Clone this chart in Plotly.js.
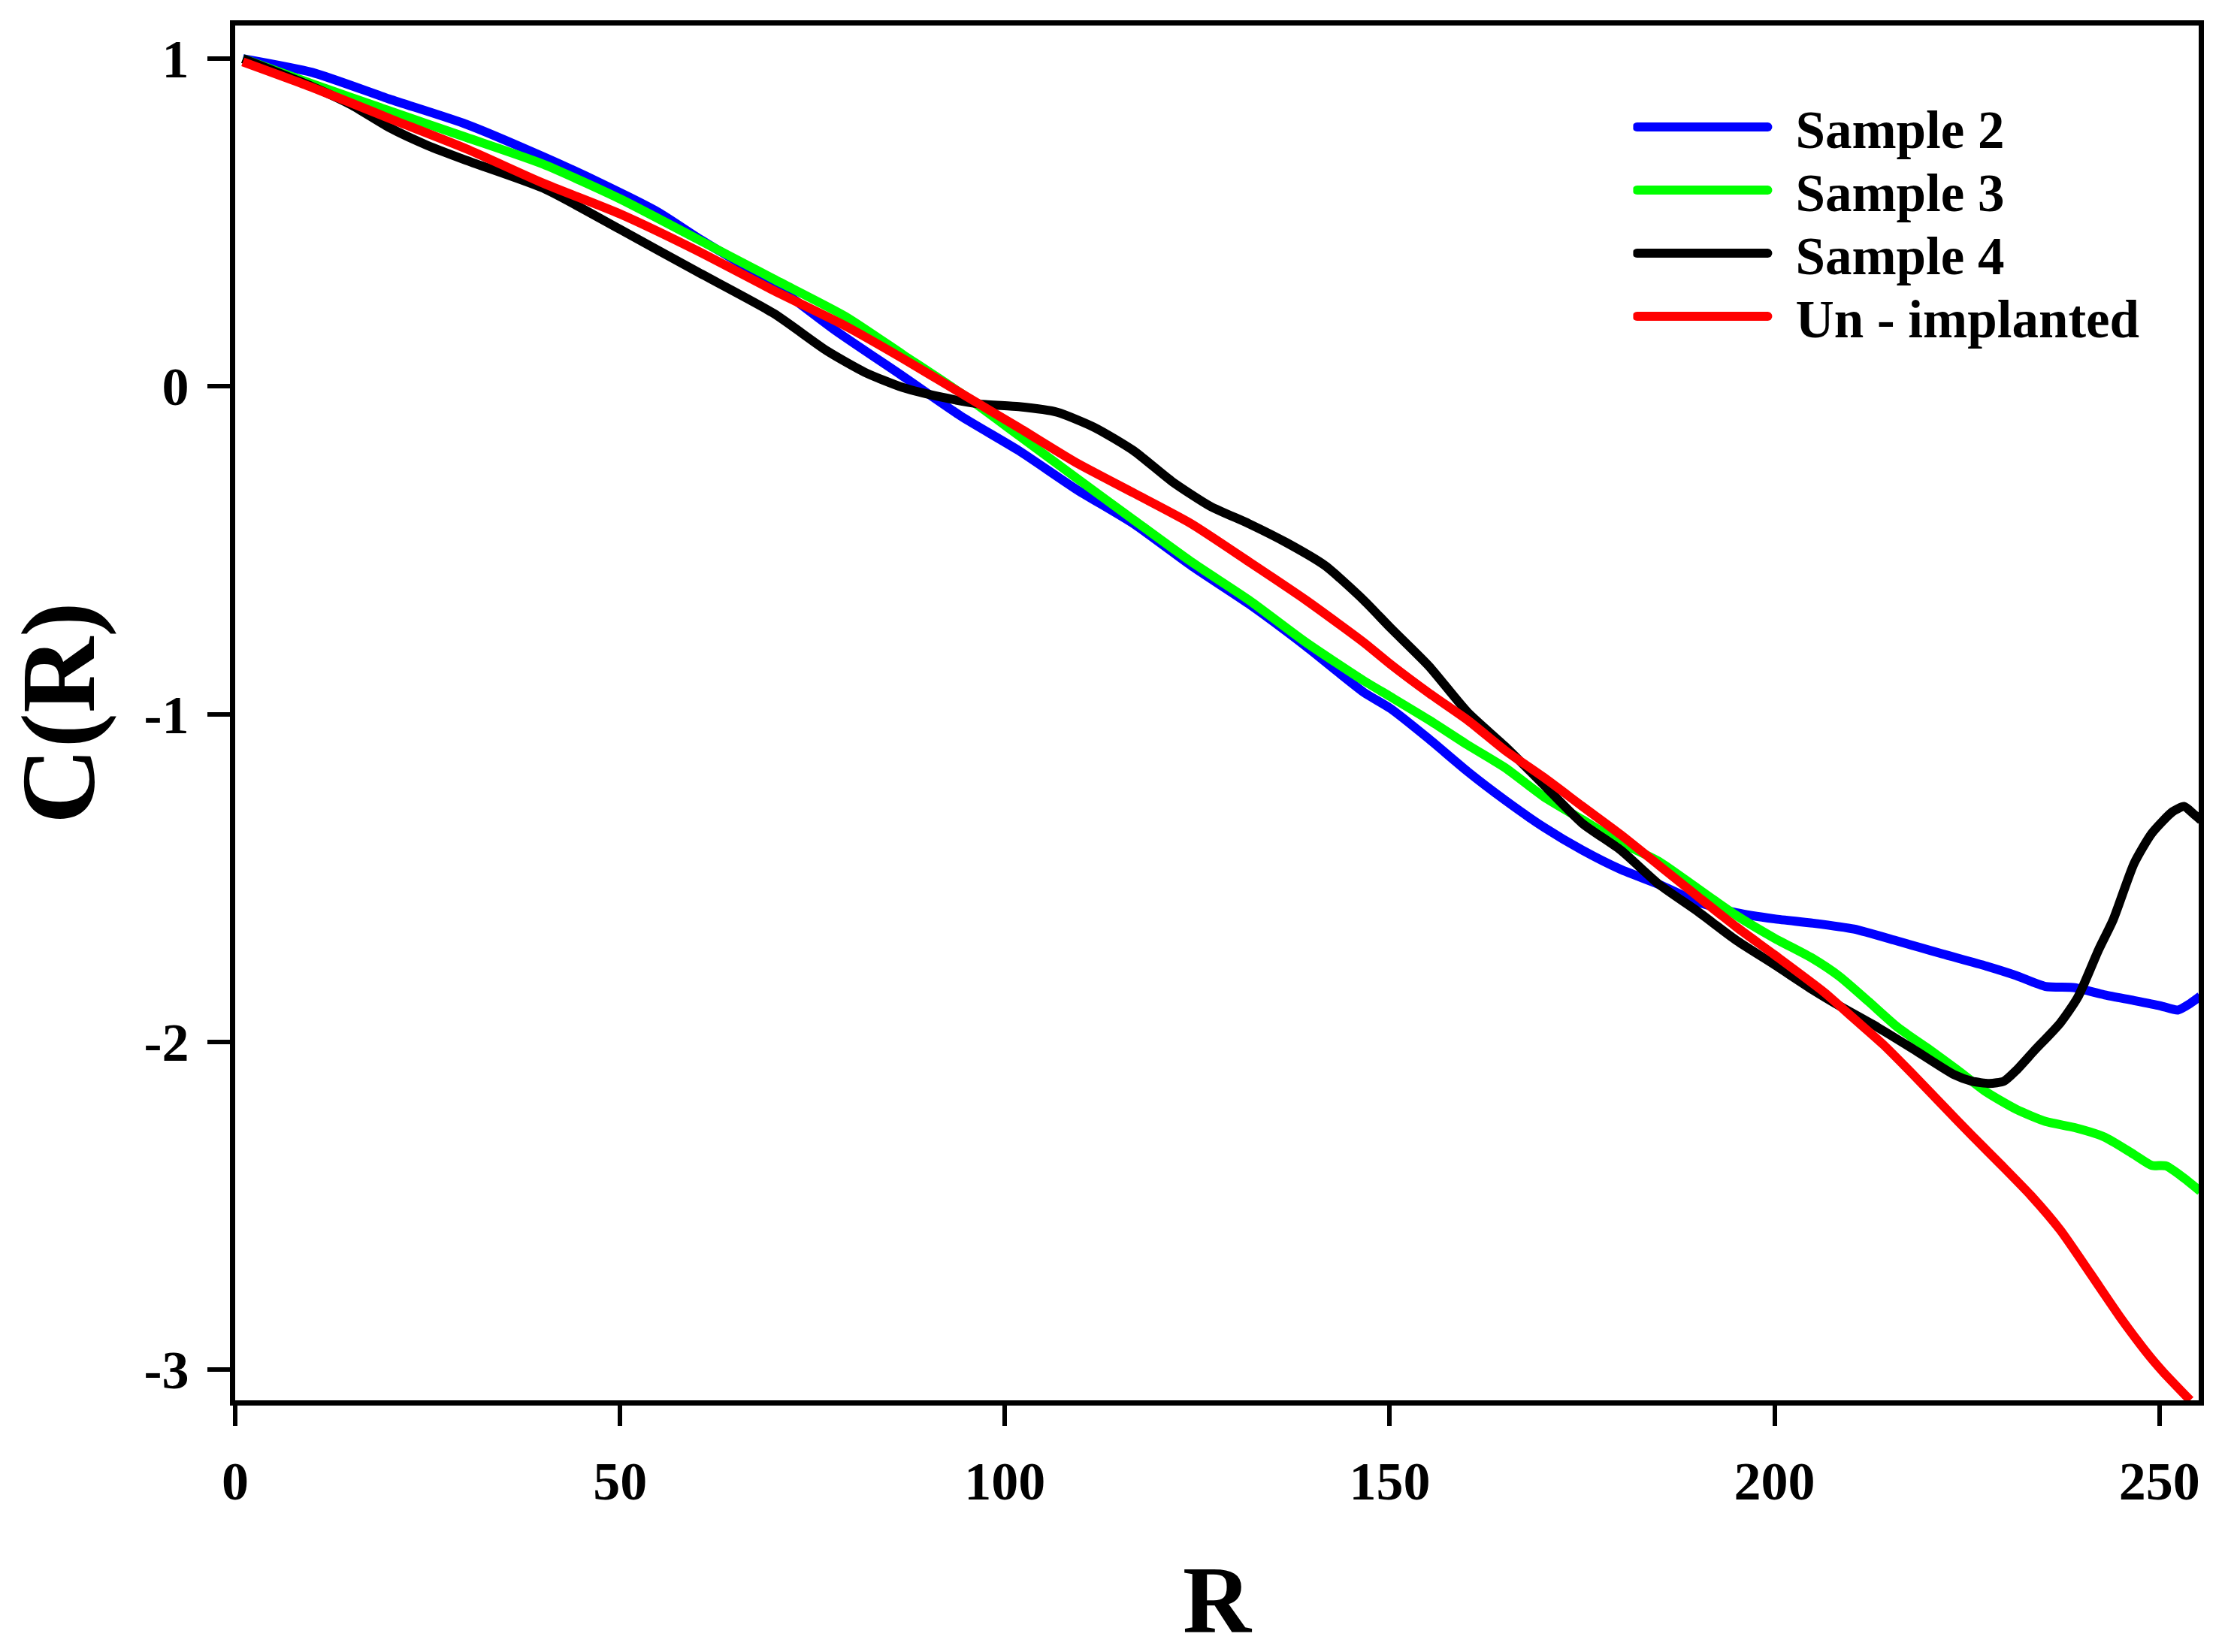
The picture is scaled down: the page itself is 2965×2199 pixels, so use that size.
<!DOCTYPE html>
<html>
<head>
<meta charset="utf-8">
<script src="https://cdn.plot.ly/plotly-3.0.1.min.js"></script>
<style>
  html, body { margin: 0; padding: 0; background: #fff; }
  #chart { width: 2965px; height: 2199px; }
</style>
</head>
<body>
<div id="chart"></div>
<script>
// values (R, C(R))
const rSample2 = [1, 10, 20, 30, 40, 47.5, 55, 60, 70, 78, 86.8, 94.3, 101.8, 109.2, 116.7, 124.2, 131.7, 139.1, 146.6, 150.1, 155.1, 160.1, 165, 170, 175, 180, 185, 190, 195, 200, 205, 210.3, 216, 221.8, 227.5, 231.4, 235.2, 239, 242.9, 246.7, 250.1, 252.4, 254, 255.3];
const cSample2 = [1.0, 0.958, 0.877, 0.80, 0.701, 0.62, 0.531, 0.455, 0.31, 0.17, 0.03, -0.091, -0.196, -0.313, -0.419, -0.547, -0.664, -0.793, -0.933, -0.983, -1.076, -1.175, -1.263, -1.345, -1.415, -1.474, -1.52, -1.573, -1.606, -1.625, -1.638, -1.656, -1.693, -1.732, -1.769, -1.798, -1.831, -1.835, -1.857, -1.874, -1.89, -1.903, -1.883, -1.861];

const rSample3 = [1, 10, 20, 30, 40, 50, 60, 70, 79.3, 86.8, 94.3, 101.8, 109.2, 116.7, 124.2, 131.7, 139.1, 146.6, 150.1, 155.1, 160.1, 165, 170, 175, 180, 185, 190, 195, 200, 204.9, 208.4, 212.2, 216, 219.9, 223.7, 227.5, 231.4, 235.2, 239, 242.9, 246.7, 249, 250.9, 253.2, 255.3];
const cSample3 = [1.0, 0.923, 0.841, 0.76, 0.678, 0.572, 0.45, 0.327, 0.213, 0.096, -0.021, -0.15, -0.278, -0.407, -0.535, -0.652, -0.781, -0.898, -0.947, -1.018, -1.094, -1.164, -1.252, -1.322, -1.392, -1.45, -1.532, -1.614, -1.684, -1.745, -1.8, -1.877, -1.956, -2.02, -2.085, -2.153, -2.206, -2.243, -2.262, -2.291, -2.344, -2.377, -2.379, -2.416, -2.456];

const rSample4 = [1, 10, 15, 20, 25, 30, 40, 50, 60, 70, 76.9, 81.8, 86.8, 91.8, 96.8, 101.8, 106.8, 111.7, 116.7, 121.7, 126.7, 131.7, 136.6, 141.6, 146.6, 150.1, 155.1, 160.1, 165, 170, 175, 180, 185, 190, 195, 200, 205, 208.4, 213.4, 218, 223.3, 225.6, 227.9, 229.8, 231.4, 233.7, 237.1, 239.4, 242.1, 244, 246.7, 249, 251.7, 253.2, 254.4, 255.4];
const cSample4 = [1.0, 0.915, 0.86, 0.79, 0.735, 0.69, 0.605, 0.479, 0.35, 0.222, 0.108, 0.043, -0.004, -0.033, -0.054, -0.062, -0.079, -0.126, -0.196, -0.29, -0.366, -0.419, -0.477, -0.547, -0.652, -0.737, -0.854, -0.994, -1.099, -1.216, -1.333, -1.415, -1.52, -1.602, -1.69, -1.765, -1.842, -1.89, -1.956, -2.022, -2.1, -2.12, -2.127, -2.12, -2.087, -2.028, -1.943, -1.864, -1.719, -1.627, -1.456, -1.364, -1.298, -1.282, -1.304, -1.324];

const rUnimpl = [1, 10, 20, 30, 40, 50, 60, 70, 79.3, 86.8, 94.3, 101.8, 109.2, 116.7, 124.2, 131.7, 139.1, 146.6, 150.1, 155.1, 160.1, 165, 170, 175, 180, 185, 190, 195, 200, 206.5, 210.3, 214.1, 218, 221.8, 225.6, 229.5, 233.3, 237.1, 241, 244.8, 248.6, 250.5, 254];
const cUnimpl = [0.99, 0.912, 0.818, 0.725, 0.62, 0.526, 0.414, 0.292, 0.184, 0.084, -0.021, -0.126, -0.232, -0.325, -0.419, -0.535, -0.652, -0.781, -0.848, -0.936, -1.018, -1.111, -1.193, -1.281, -1.368, -1.462, -1.556, -1.649, -1.735, -1.85, -1.929, -2.008, -2.1, -2.193, -2.285, -2.377, -2.469, -2.574, -2.706, -2.837, -2.956, -3.008, -3.094];

const seriesNames = ["Sample 2", "Sample 3", "Sample 4", "Un - implanted"];
const seriesColors = ["#0000ff", "#00ff00", "#000000", "#ff0000"];

const xTickVals = [0, 50, 100, 150, 200, 250];
const xTickText = ["0", "50", "100", "150", "200", "250"];
const yTickVals = [-3, -2, -1, 0, 1];
const yTickText = ["-3", "-2", "-1", "0", "1"];

const serif = "Liberation Serif, Times New Roman, serif";

const xs = [rSample2, rSample3, rSample4, rUnimpl];
const ys = [cSample2, cSample3, cSample4, cUnimpl];

const traces = seriesNames.map((name, i) => ({
    x: xs[i],
    y: ys[i],
    name: name,
    type: 'scatter',
    mode: 'lines',
    line: { color: seriesColors[i], width: 12, shape: 'spline', smoothing: 0.6 }
}));

const axisCommon = {
    showgrid: false,
    zeroline: false,
    showline: true,
    linecolor: '#000',
    linewidth: 7,
    mirror: true,
    ticks: 'outside',
    tickcolor: '#000',
    tickwidth: 6,
    tickmode: 'array',
    tickfont: { family: serif, size: 72, color: '#000', weight: 'bold' }
};

const layout = {
    width: 2965,
    height: 2199,
    paper_bgcolor: '#fff',
    plot_bgcolor: '#fff',
    margin: { l: 313, r: 39, t: 34, b: 335 },
    showlegend: true,
    legend: {
        x: 0.712, xanchor: 'left',
        y: 0.955, yanchor: 'top',
        bgcolor: 'rgba(0,0,0,0)',
        borderwidth: 0,
        itemwidth: 206,
        font: { family: serif, size: 71, color: '#000', weight: 'bold' }
    },
    xaxis: {
        ...axisCommon,
        range: [0, 255.1],
        ticklen: 27,
        ticklabelstandoff: 12,
        tickvals: xTickVals,
        ticktext: xTickText,
        title: { text: 'R', standoff: 82, font: { family: serif, size: 126, color: '#000', weight: 'bold' } }
    },
    yaxis: {
        ...axisCommon,
        range: [-3.094, 1.101],
        ticklen: 30,
        ticklabelstandoff: 10,
        tickvals: yTickVals,
        ticktext: yTickText,
        title: { text: 'C(R)', standoff: 40, font: { family: serif, size: 140, color: '#000', weight: 'bold' } }
    }
};

// legend rows sit closer than plotly's default and use long keys
const rowGap = 84;
const keyLength = 174;

Plotly.newPlot('chart', traces, layout, { displayModeBar: false }).then(gd => {
    let x0 = 0, y0 = 0;
    gd.querySelectorAll('.legend .traces').forEach((g, i) => {
        const m = /translate\(([-\d.e]+)[ ,]*([-\d.e]*)\)/.exec(g.getAttribute('transform') || '');
        if (i === 0 && m) { x0 = +m[1]; y0 = +(m[2] || 0); }
        g.setAttribute('transform', `translate(${x0},${y0 + i * rowGap})`);
        g.querySelectorAll('.legendlines path').forEach(p => {
            p.setAttribute('d', `M5,0h${keyLength}`);
            p.style.strokeWidth = '12px';
            p.style.strokeLinecap = 'round';
        });
    });
});
</script>
</body>
</html>
